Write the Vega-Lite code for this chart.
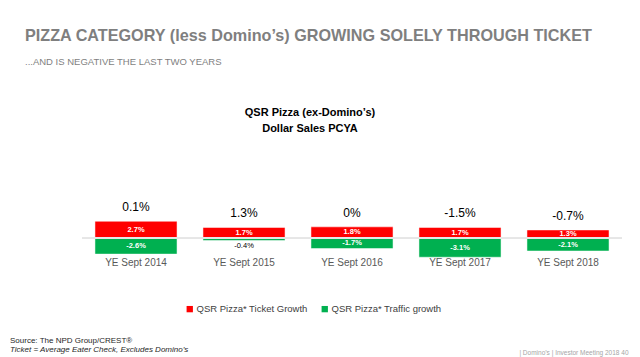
{
  "$schema": "https://vega.github.io/schema/vega-lite/v6.json",
  "autosize": {"type": "pad"},
  "padding": {"left": 10, "top": 28, "right": 5, "bottom": 2},
  "background": "white",
  "config": {"view": {"stroke": null}, "font": "Liberation Sans"},
  "bounds": "flush",
  "spacing": 102,
  "datasets": {
    "bars": [
      {"year": "YE Sept 2014", "series": "QSR Pizza* Ticket Growth", "value": 2.7, "label": "2.7%"},
      {"year": "YE Sept 2014", "series": "QSR Pizza* Traffic growth", "value": -2.6, "label": "-2.6%"},
      {"year": "YE Sept 2015", "series": "QSR Pizza* Ticket Growth", "value": 1.7, "label": "1.7%"},
      {"year": "YE Sept 2015", "series": "QSR Pizza* Traffic growth", "value": -0.4, "label": "-0.4%"},
      {"year": "YE Sept 2016", "series": "QSR Pizza* Ticket Growth", "value": 1.8, "label": "1.8%"},
      {"year": "YE Sept 2016", "series": "QSR Pizza* Traffic growth", "value": -1.7, "label": "-1.7%"},
      {"year": "YE Sept 2017", "series": "QSR Pizza* Ticket Growth", "value": 1.7, "label": "1.7%"},
      {"year": "YE Sept 2017", "series": "QSR Pizza* Traffic growth", "value": -3.1, "label": "-3.1%"},
      {"year": "YE Sept 2018", "series": "QSR Pizza* Ticket Growth", "value": 1.3, "label": "1.3%"},
      {"year": "YE Sept 2018", "series": "QSR Pizza* Traffic growth", "value": -2.1, "label": "-2.1%"}
    ],
    "totals": [
      {"year": "YE Sept 2014", "ticket": 2.7, "total": "0.1%"},
      {"year": "YE Sept 2015", "ticket": 1.7, "total": "1.3%"},
      {"year": "YE Sept 2016", "ticket": 1.8, "total": "0%"},
      {"year": "YE Sept 2017", "ticket": 1.7, "total": "-1.5%"},
      {"year": "YE Sept 2018", "ticket": 1.3, "total": "-0.7%"}
    ]
  },
  "title": {
    "text": "PIZZA CATEGORY (less Domino’s) GROWING SOLELY THROUGH TICKET",
    "subtitle": "...AND IS NEGATIVE THE LAST TWO YEARS",
    "anchor": "start",
    "frame": "group",
    "dx": -57,
    "offset": 41,
    "fontSize": 16.2,
    "fontWeight": "bold",
    "color": "#7f7f7f",
    "subtitleColor": "#7f7f7f",
    "subtitleFontSize": 9.5,
    "subtitlePadding": 12
  },
  "vconcat": [
    {
      "width": 540,
      "height": 70,
      "title": {
        "text": ["QSR Pizza (ex-Domino’s)", "Dollar Sales PCYA"],
        "anchor": "middle",
        "frame": "group",
        "dx": -42,
        "offset": 55,
        "fontSize": 11,
        "fontWeight": "bold",
        "color": "#000000",
        "lineHeight": 16
      },
      "resolve": {"scale": {"y": "independent"}},
      "layer": [
        {
          "data": {"name": "bars"},
          "mark": {"type": "bar", "stroke": "#ffffff", "strokeWidth": 0.5},
          "encoding": {
            "x": {
              "field": "year", "type": "nominal", "sort": null,
              "scale": {"paddingInner": 0.24, "paddingOuter": 0.12},
              "axis": {
                "title": "|   Domino’s   |   Investor Meeting 2018         40",
                "titleX": 546,
                "titleY": 95,
                "titleAlign": "right",
                "titleBaseline": "alphabetic",
                "titleFontSize": 6.5,
                "titleFontWeight": "normal",
                "titleColor": "#a6a6a6",
                "labelAngle": 0,
                "labelFontSize": 10,
                "labelColor": "#595959",
                "labelPadding": -2,
                "ticks": false,
                "domain": false,
                "grid": false
              }
            },
            "y": {"field": "value", "type": "quantitative", "stack": null, "scale": {"domain": [-3.387, 7.903], "nice": false, "zero": false}, "axis": null},
            "color": {
              "field": "series", "type": "nominal",
              "scale": {"domain": ["QSR Pizza* Ticket Growth", "QSR Pizza* Traffic growth"], "range": ["#ff0000", "#00b050"]},
              "legend": {
                "orient": "none",
                "legendX": 103,
                "legendY": 115,
                "direction": "horizontal",
                "title": null,
                "symbolType": "square",
                "symbolSize": 40,
                "symbolStrokeWidth": 0,
                "labelFontSize": 9.5,
                "labelColor": "#404040",
                "columnPadding": 12,
                "labelOffset": 2
              }
            }
          }
        },
        {
          "data": {"name": "bars"},
          "mark": {"type": "rule", "color": "#e6e6e6", "strokeWidth": 1},
          "encoding": {
            "y": {"datum": 0, "type": "quantitative", "scale": {"domain": [-3.387, 7.903], "nice": false, "zero": false}, "axis": null}
          }
        },
        {
          "data": {"name": "bars"},
          "transform": [{"filter": "abs(datum.value) >= 1"}],
          "mark": {"type": "text", "color": "#ffffff", "fontSize": 7.5, "fontWeight": "bold", "baseline": "middle"},
          "encoding": {
            "x": {"field": "year", "type": "nominal", "sort": null},
            "y": {"field": "value", "type": "quantitative", "scale": {"domain": [-6.774, 15.806], "nice": false, "zero": false}, "axis": null},
            "text": {"field": "label"}
          }
        },
        {
          "data": {"name": "bars"},
          "transform": [{"filter": "datum.value < 0 && datum.value > -1"}],
          "mark": {"type": "text", "color": "#000000", "fontSize": 7.5, "baseline": "top", "dy": 2},
          "encoding": {
            "x": {"field": "year", "type": "nominal", "sort": null},
            "y": {"field": "value", "type": "quantitative", "scale": {"domain": [-3.387, 7.903], "nice": false, "zero": false}, "axis": null},
            "text": {"field": "label"}
          }
        },
        {
          "data": {"name": "totals"},
          "mark": {"type": "text", "color": "#000000", "fontSize": 12, "baseline": "alphabetic", "dy": -10},
          "encoding": {
            "x": {"field": "year", "type": "nominal", "sort": null},
            "y": {"field": "ticket", "type": "quantitative", "scale": {"domain": [-3.387, 7.903], "nice": false, "zero": false}, "axis": null},
            "text": {"field": "total"}
          }
        }
      ]
    },
    {
      "width": 540,
      "height": 1,
      "data": {"values": [{}]},
      "mark": {"type": "text"},
      "encoding": {"text": {"value": ""}},
      "title": {
        "text": "Source: The NPD Group/CREST®",
        "subtitle": "Ticket = Average Eater Check, Excludes Domino’s",
        "anchor": "start",
        "frame": "group",
        "dx": -72,
        "offset": 2,
        "fontSize": 8,
        "fontWeight": "normal",
        "color": "#262626",
        "subtitleFontSize": 8,
        "subtitleFontStyle": "italic",
        "subtitleColor": "#262626",
        "subtitlePadding": 1
      }
    }
  ]
}
